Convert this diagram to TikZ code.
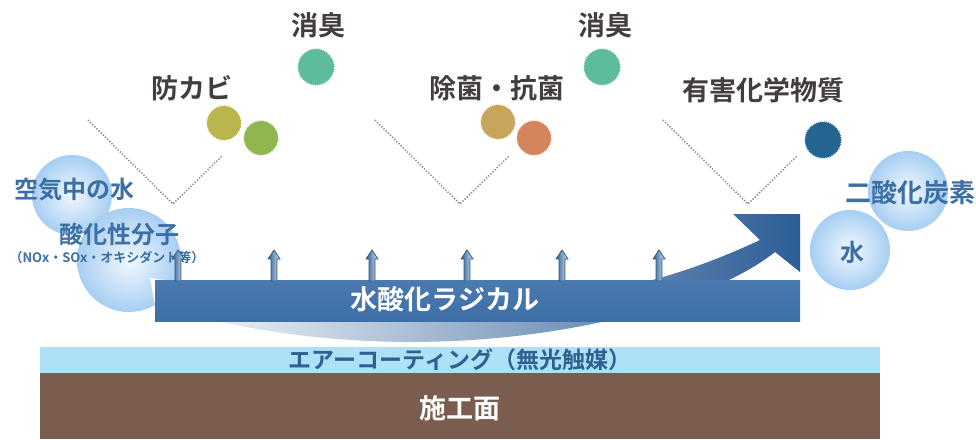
\documentclass[tikz,border=0pt]{standalone}
\usepackage{fontspec}
\setmainfont{Noto Sans CJK JP}[BoldFont={Noto Sans CJK JP Bold}]
\usetikzlibrary{decorations.pathmorphing}
\definecolor{bandblue}{HTML}{3D6EA6}
\definecolor{bandtop}{HTML}{4A7AB0}
\definecolor{arrowdark}{HTML}{2C5D96}
\definecolor{arrowmid}{HTML}{B5C6DA}
\definecolor{coatblue}{HTML}{AEE0F7}
\definecolor{brownbase}{HTML}{7B5D50}
\definecolor{coattext}{HTML}{2E6190}
\definecolor{labelgray}{HTML}{433D3D}
\definecolor{bubout}{HTML}{A6CEF2}
\definecolor{bubin}{HTML}{F2F8FE}
\definecolor{bubtext}{HTML}{3C6FA3}
\definecolor{odorgreen}{HTML}{5CBC9C}
\definecolor{moldyellow}{HTML}{B8B64C}
\definecolor{moldgreen}{HTML}{8FB650}
\definecolor{germgold}{HTML}{C8A55C}
\definecolor{germorange}{HTML}{D3865C}
\definecolor{chemblue}{HTML}{236590}
\definecolor{dotgray}{HTML}{8E8E8E}
\definecolor{uparrow}{HTML}{2D5C8F}
\definecolor{uplight}{HTML}{D6E3F0}
\tikzset{
  lbl/.style={font=\bfseries\fontsize{27}{27}\selectfont, text=labelgray, inner sep=0pt},
  bubtxt/.style={font=\bfseries\fontsize{24}{24}\selectfont, text=bubtext, inner sep=0pt},
  vline/.style={draw=dotgray, line width=1.6pt, dash pattern=on 1.3pt off 1.7pt},
  particle/.style={decorate, decoration={zigzag, segment length=2pt, amplitude=0.7pt}},
  bubble/.style={inner color=bubin, outer color=bubout},
  uparr/.style={left color=uparrow, right color=uplight, draw=uparrow, line width=0.8pt, line join=miter},
}
\begin{document}
\begin{tikzpicture}[x=1pt,y=-1pt]
\useasboundingbox (0,0) rectangle (976,439);

% base layers
\fill[brownbase] (40,373) rectangle (880,439);
\fill[coatblue] (40,347) rectangle (880,373);
\node[font=\bfseries\fontsize{23}{23}\selectfont, text=coattext, inner sep=0pt] (coat) at (460,360) {エアーコーティング（無光触媒）};
\node[font=\bfseries\fontsize{27}{27}\selectfont, text=white, inner sep=0pt] (base) at (460,408) {施工面};

% left bubbles
\shade[bubble] (72,195) circle (40);
\shade[bubble] (129,260) circle (52);
\node[bubtxt] (air) at (74,190) {空気中の水};
\node[bubtxt] (oxid) at (119,234) {酸化性分子};
\node[font=\bfseries\fontsize{13}{13}\selectfont, text=bubtext, inner sep=0pt] (oxsub) at (107,258) {（NOx・SOx・オキシダント等）};

% right bubbles
\shade[bubble] (908,191) circle (40);
\shade[bubble] (850,250) circle (40);
\node[bubtxt, font=\bfseries\fontsize{26}{26}\selectfont] (co2) at (910,193) {二酸化炭素};
\node[bubtxt] (water) at (852,252) {水};

% sweep arrow
\shade[left color=white, middle color=arrowmid, right color=arrowdark]
  (150,278) .. controls (450,320) and (600,315) .. (760,240)
  -- (733,214) -- (800,214) -- (800,272) -- (775,252)
  .. controls (690,320) and (420,385) .. (155,305) -- cycle;

% radical band
\shade[top color=bandtop, bottom color=bandblue] (155,280) rectangle (800,321);
\node[font=\bfseries\fontsize{27}{27}\selectfont, text=white, inner sep=0pt] (radical) at (445,299) {水酸化ラジカル};

% small up arrows
\foreach \ax in {178,274,372,467,562,659}{
  \shade[uparr] (\ax-3,281) -- (\ax-3,259) -- (\ax-6,259) -- (\ax,250) -- (\ax+6,259) -- (\ax+3,259) -- (\ax+3,281) -- cycle;
}

% V dotted lines
\foreach \vx in {88,375,663}{
  \draw[vline] (\vx,120) -- (\vx+85,204) -- (\vx+134,156);
}

% particles
\fill[particle, odorgreen] (316,67) circle (18);
\fill[particle, odorgreen] (602,67) circle (18);
\fill[particle, moldyellow] (224,123) circle (17);
\fill[particle, moldgreen] (261,138) circle (17);
\fill[particle, germgold] (498,122) circle (17);
\fill[particle, germorange] (534,138) circle (17);
\fill[particle, chemblue] (823,140) circle (18);

% labels
\node[lbl] (odor1) at (318,25) {消臭};
\node[lbl] (odor2) at (605,25) {消臭};
\node[lbl] (mold) at (192,88) {防カビ};
\node[lbl] (germ) at (497,88) {除菌・抗菌};
\node[lbl] (chem) at (763,90) {有害化学物質};
\end{tikzpicture}
\end{document}
